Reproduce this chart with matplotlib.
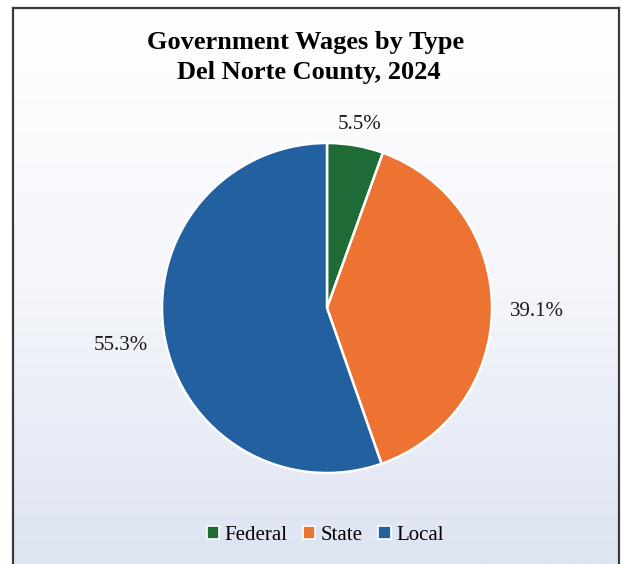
import numpy as np
import matplotlib.pyplot as plt
from matplotlib.colors import LinearSegmentedColormap
from matplotlib.patches import Patch

labels = ["Federal", "State", "Local"]
shares = [5.5, 39.1, 55.3]
colors = ["#1e6b35", "#ec7332", "#2260a0"]
title_lines = ["Government Wages by Type", "Del Norte County, 2024"]

W, H = 623, 564
plt.rcParams['font.family'] = ['Liberation Serif', 'DejaVu Serif']

fig = plt.figure(figsize=(W / 100, H / 100), dpi=100)

# background panel with vertical gradient and border (open at bottom)
bg = fig.add_axes([13 / W, 0, 606 / W, 556 / H])
grad = np.linspace(0, 1, 256).reshape(-1, 1)
cmap = LinearSegmentedColormap.from_list("bg", ["#ffffff", "#f4f6fb", "#dde4f2"])
bg.imshow(grad, aspect="auto", cmap=cmap, extent=[0, 1, 0, 1], origin="upper")
bg.set_xticks([])
bg.set_yticks([])
for side in ["left", "top", "right"]:
    bg.spines[side].set_color("#3a3a3a")
    bg.spines[side].set_linewidth(1.6)
bg.spines["bottom"].set_visible(False)

# pie axes: center (327, 308), radius 165 px
R = 165
half = 1.5 * R
cx, cy = 327, 308
ax = fig.add_axes([(cx - half) / W, (H - cy - half) / H, 2 * half / W, 2 * half / H])
wedges, _ = ax.pie(shares, colors=colors, startangle=90, counterclock=False,
                   wedgeprops=dict(edgecolor="white", linewidth=1.8))
ax.set_xlim(-1.5, 1.5)
ax.set_ylim(-1.5, 1.5)
ax.set_aspect("equal")
ax.axis("off")

for w, v in zip(wedges, shares):
    ang = np.deg2rad((w.theta1 + w.theta2) / 2)
    r = 1.12 + 0.15 * abs(np.cos(ang))
    ax.text(r * np.cos(ang), r * np.sin(ang) - 0.015, f"{v:.1f}%", ha="center", va="center",
            fontsize=15, color="#1a1a1a")

fig.text(306 / W, 1 - 42 / H, title_lines[0], ha="center", va="center",
         fontsize=19, fontweight="bold")
fig.text(309 / W, 1 - 73 / H, title_lines[1], ha="center", va="center",
         fontsize=19, fontweight="bold")

handles = [Patch(facecolor=c, edgecolor="white", linewidth=1.2) for c in colors]
fig.legend(handles, labels, loc="center", bbox_to_anchor=(325 / W, 1 - 535 / H),
           ncol=3, frameon=False, fontsize=15, handlelength=0.6, handleheight=0.6,
           handletextpad=0.25, columnspacing=0.75, borderpad=0, borderaxespad=0)

fig.savefig("out.png", dpi=100)
